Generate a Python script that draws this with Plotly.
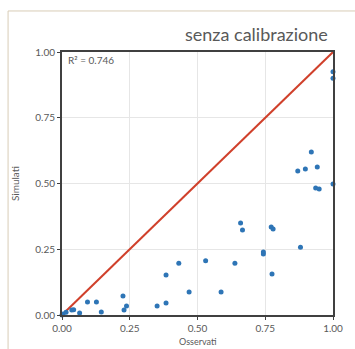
import plotly.graph_objects as go

osservati = [1.0, 1.0, 1.0, 0.92, 0.87, 0.898, 0.942, 0.936, 0.949,
             0.659, 0.666, 0.772, 0.779, 0.743, 0.743, 0.88, 0.775,
             0.638, 0.53, 0.431, 0.384, 0.469, 0.587, 0.384, 0.351,
             0.225, 0.238, 0.229, 0.127, 0.094, 0.145, 0.065, 0.036,
             0.043, 0.004, 0.015, 0.0]
simulati = [0.925, 0.90, 0.498, 0.62, 0.548, 0.555, 0.563, 0.483, 0.479,
            0.35, 0.323, 0.335, 0.327, 0.24, 0.232, 0.258, 0.156,
            0.197, 0.206, 0.197, 0.152, 0.087, 0.087, 0.046, 0.034,
            0.072, 0.034, 0.019, 0.049, 0.049, 0.011, 0.008, 0.019,
            0.02, 0.004, 0.01, 0.0]
line_x = [0, 1]
line_y = [0, 1]
ticks = [0, 0.25, 0.5, 0.75, 1.0]
tick_labels = ["0.00", "0.25", "0.50", "0.75", "1.00"]

font_family = "Lato, Open Sans, sans-serif"
grey = "#595959"

fig = go.Figure()
fig.add_trace(go.Scatter(x=line_x, y=line_y, mode="lines",
                         line=dict(color="#d0402b", width=2), hoverinfo="skip"))
fig.add_trace(go.Scatter(x=osservati, y=simulati, mode="markers",
                         marker=dict(color="#2e75b6", size=5), cliponaxis=False))

axis_common = dict(range=[0, 1], tickvals=ticks, ticktext=tick_labels,
                   showgrid=True, gridcolor="#e6e6e6", gridwidth=1,
                   showline=True, linecolor="#404040", linewidth=2, mirror=True,
                   ticks="outside", ticklen=3, tickcolor="#404040",
                   tickfont=dict(family=font_family, size=10, color=grey),
                   zeroline=False, fixedrange=True)

fig.update_layout(
    width=355, height=349,
    margin=dict(l=62, r=17, t=52, b=34),
    paper_bgcolor="white", plot_bgcolor="white",
    showlegend=False,
    font=dict(family=font_family, color=grey),
    xaxis=axis_common,
    yaxis=axis_common,
    shapes=[dict(type="rect", xref="paper", yref="paper",
                 x0=-0.199, x1=1.3, y0=-0.5, y1=1.156,
                 line=dict(color="#d8ccb6", width=1), layer="below")],
    annotations=[
        dict(text="senza calibrazione", xref="paper", yref="paper",
             x=0.99, y=1.02, xanchor="right", yanchor="bottom", showarrow=False,
             font=dict(family=font_family, size=18, color=grey)),
        dict(text="R² = 0.746", xref="paper", yref="paper",
             x=0.015, y=0.97, xanchor="left", yanchor="middle", showarrow=False,
             font=dict(family=font_family, size=10, color=grey)),
        dict(text="Simulati", xref="paper", yref="paper",
             x=-0.175, y=0.5, xanchor="center", yanchor="middle", textangle=-90,
             showarrow=False, font=dict(family=font_family, size=10, color=grey)),
        dict(text="Osservati", xref="paper", yref="paper",
             x=0.5, y=-0.1293, xanchor="center", yanchor="bottom",
             showarrow=False, font=dict(family=font_family, size=9, color=grey)),
    ],
)

fig.write_html("out.html")
